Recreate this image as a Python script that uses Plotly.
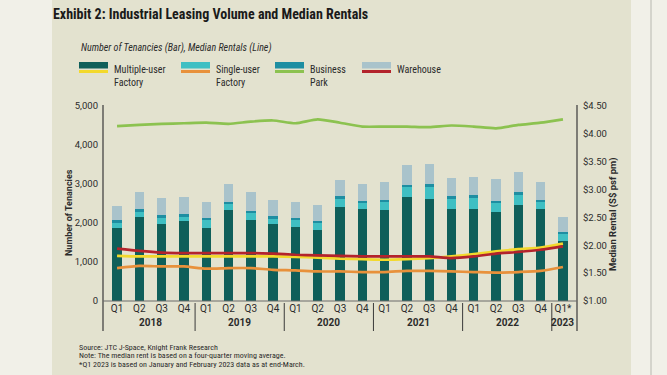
import plotly.graph_objects as go

quarters = ["Q1","Q2","Q3","Q4","Q1","Q2","Q3","Q4","Q1","Q2","Q3","Q4",
            "Q1","Q2","Q3","Q4","Q1","Q2","Q3","Q4","Q1*"]
years = ["2018", "2019", "2020", "2021", "2022", "2023"]
year_span = [4, 4, 4, 4, 4, 1]

muf_bar = [1860, 2165, 1980, 2060, 1875, 2340, 2080, 1977, 1890, 1820, 2410, 2370,
           2340, 2665, 2615, 2370, 2355, 2285, 2460, 2355, 1545]
suf_bar = [150, 120, 155, 100, 190, 135, 170, 137, 190, 190, 205, 155,
           205, 260, 325, 260, 290, 240, 255, 190, 190]
bp_bar = [70, 70, 70, 70, 70, 70, 70, 70, 50, 50, 70, 50,
          50, 50, 50, 50, 70, 50, 70, 50, 35]
wh_bar = [360, 446, 430, 430, 395, 445, 465, 410, 410, 400, 430, 430,
          445, 500, 535, 465, 465, 550, 535, 445, 380]

muf_rent = [1.81, 1.80, 1.80, 1.80, 1.80, 1.80, 1.80, 1.80, 1.79, 1.78, 1.76, 1.75,
            1.74, 1.75, 1.77, 1.80, 1.84, 1.89, 1.93, 1.96, 2.03]
suf_rent = [1.59, 1.63, 1.62, 1.62, 1.58, 1.59, 1.59, 1.56, 1.55, 1.53, 1.53, 1.52,
            1.52, 1.54, 1.54, 1.53, 1.52, 1.51, 1.52, 1.54, 1.61]
bp_rent = [4.14, 4.16, 4.18, 4.19, 4.20, 4.18, 4.22, 4.24, 4.19, 4.26, 4.20, 4.13,
           4.13, 4.13, 4.12, 4.15, 4.13, 4.10, 4.16, 4.20, 4.26]
wh_rent = [1.94, 1.90, 1.87, 1.86, 1.86, 1.86, 1.86, 1.85, 1.83, 1.82, 1.81, 1.80,
           1.80, 1.80, 1.80, 1.77, 1.80, 1.85, 1.88, 1.92, 1.98]

series_names = ["Multiple-user<br>Factory", "Single-user<br>Factory", "Business<br>Park", "Warehouse"]
bar_colors = ["#0f5f5a", "#3fbfc3", "#1e8ea2", "#a9c3cb"]
line_colors = ["#f3d92c", "#e8913b", "#8cc250", "#b3232c"]

W, H = 667, 375
L, R, T, B = 103, 90, 106, 74
PW, PH = W - L - R, H - T - B

def px(x):
    return (x - L) / PW

def py(y):
    return (H - B - y) / PH

xs = list(range(len(quarters)))
fig = go.Figure()
for vals, col in zip([muf_bar, suf_bar, bp_bar, wh_bar], bar_colors):
    fig.add_trace(go.Bar(x=xs, y=vals, marker=dict(color=col, line=dict(width=0)),
                         width=0.42, showlegend=False, hoverinfo="skip"))
for vals, col in zip([suf_rent, bp_rent, muf_rent, wh_rent],
                     [line_colors[1], line_colors[2], line_colors[0], line_colors[3]]):
    fig.add_trace(go.Scatter(x=xs, y=vals, yaxis="y2", mode="lines",
                             line=dict(color=col, width=2.7, shape="spline", smoothing=0.6),
                             showlegend=False, hoverinfo="skip"))

font_main = "Roboto, Inter, sans-serif"
font_narrow = "Liberation Sans Narrow, Roboto Condensed, Arial Narrow, sans-serif"
txt = "#2b2b2b"

shapes = []
shapes.append(dict(type="rect", xref="paper", yref="paper", x0=px(52), x1=px(631), y0=py(H), y1=py(0),
                   fillcolor="#e3e2cf", line=dict(width=0), layer="below"))
shapes.append(dict(type="line", xref="paper", yref="paper", x0=px(651), x1=px(651), y0=py(H), y1=py(0),
                   line=dict(color="#b8b8b0", width=1), layer="below"))
for xx in [103, 577]:
    shapes.append(dict(type="line", xref="paper", yref="paper", x0=px(xx), x1=px(xx), y0=py(331), y1=py(105),
                       line=dict(color="#3a3a3a", width=1.2)))
shapes.append(dict(type="line", xref="paper", yref="paper", x0=0, x1=1, y0=0, y1=0,
                   line=dict(color="#6a6a6a", width=1)))
acc = -0.5
for span in year_span[:-1]:
    acc += span
    shapes.append(dict(type="line", xref="x", yref="paper", x0=acc, x1=acc, y0=py(303), y1=py(331),
                       line=dict(color="#3a3a3a", width=1)))

annotations = []
acc = 0
for yr, span in zip(years, year_span):
    annotations.append(dict(x=acc + (span - 1) / 2, y=py(322.5), xref="x", yref="paper", text="<b>" + yr + "</b>",
                            showarrow=False, font=dict(family=font_main, size=10, color=txt),
                            xanchor="center", yanchor="middle"))
    acc += span

annotations.append(dict(x=px(51), y=py(14), xref="paper", yref="paper", xanchor="left", yanchor="middle",
                        text="<b>Exhibit 2: Industrial Leasing Volume and Median Rentals</b>", showarrow=False,
                        font=dict(family=font_narrow, size=14, color="#1a1a1a")))
annotations.append(dict(x=px(79), y=py(48.5), xref="paper", yref="paper", xanchor="left", yanchor="middle",
                        text="<i>Number of Tenancies (Bar), Median Rentals (Line)</i>", showarrow=False,
                        font=dict(family=font_narrow, size=10, color=txt)))
notes = ["Source: JTC J-Space, Knight Frank Research",
         "Note: The median rent is based on a four-quarter moving average.",
         "*Q1 2023 is based on January and February 2023 data as at end-March."]
for i, n in enumerate(notes):
    annotations.append(dict(x=px(77), y=py(347 + i * 8.8), xref="paper", yref="paper", xanchor="left",
                            yanchor="middle", text=n, showarrow=False,
                            font=dict(family=font_narrow, size=8, color=txt)))

leg_x = [79, 181, 275, 362]
for lx, name, bc, lc in zip(leg_x, series_names, bar_colors, line_colors):
    shapes.append(dict(type="rect", xref="paper", yref="paper", x0=px(lx), x1=px(lx + 29), y0=py(68.5), y1=py(62),
                       fillcolor=bc, line=dict(width=0)))
    shapes.append(dict(type="rect", xref="paper", yref="paper", x0=px(lx), x1=px(lx + 29), y0=py(73), y1=py(70),
                       fillcolor=lc, line=dict(width=0)))
    annotations.append(dict(x=px(lx + 33), y=py(62), xref="paper", yref="paper", xanchor="left", yanchor="top",
                            text=name, showarrow=False, align="left",
                            font=dict(family=font_narrow, size=10, color=txt)))

annotations.append(dict(x=px(62), y=py(213), xref="paper", yref="paper", text="<b>Number of Tenancies</b>",
                        textangle=-90, showarrow=False, font=dict(family=font_main, size=9, color=txt)))
annotations.append(dict(x=px(621), y=py(214), xref="paper", yref="paper", text="<b>Median Rental (S$ psf pm)</b>",
                        textangle=-90, showarrow=False, font=dict(family=font_main, size=9.5, color=txt)))

fig.update_layout(
    width=W, height=H, margin=dict(l=L, r=R, t=T, b=B, autoexpand=False),
    paper_bgcolor="#f1f0e8", plot_bgcolor="rgba(0,0,0,0)",
    barmode="stack", bargap=0, showlegend=False,
    shapes=shapes, annotations=annotations,
    xaxis=dict(range=[-0.63, 20.63], tickvals=xs, ticktext=quarters, showgrid=False, zeroline=False,
               showline=False, ticks="", tickfont=dict(family=font_main, size=10, color=txt),
               fixedrange=True),
    yaxis=dict(range=[0, 5000], tickvals=[0, 1000, 2000, 3000, 4000, 5000], tickformat=",d",
               showgrid=False, zeroline=False, showline=False, ticks="",
               tickfont=dict(family=font_main, size=9.5, color=txt), ticklabelstandoff=4),
    yaxis2=dict(range=[1, 4.5], overlaying="y", side="right", tickvals=[1, 1.5, 2, 2.5, 3, 3.5, 4, 4.5],
                tickformat="$.2f", showgrid=False, zeroline=False, showline=False, ticks="",
                tickfont=dict(family=font_main, size=9.5, color=txt), ticklabelstandoff=5),
)

fig.write_html("out.html", config={"displayModeBar": False},
               post_script="document.body.style.margin='0px';")
